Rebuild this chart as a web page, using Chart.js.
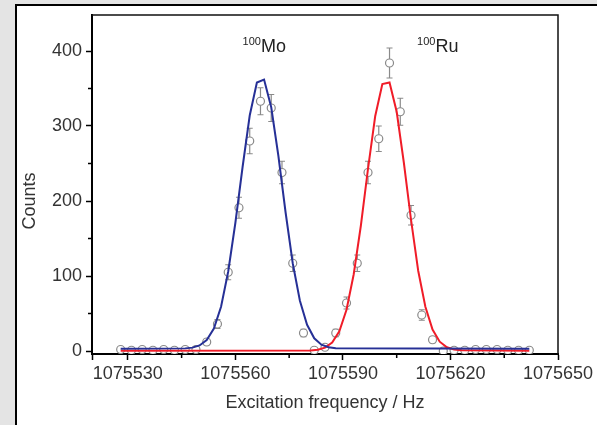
<!DOCTYPE html>
<html>
<head>
<meta charset="utf-8">
<script src="https://cdn.jsdelivr.net/npm/chart.js@4.4.1/dist/chart.umd.min.js"></script>
<style>
  html, body { margin: 0; padding: 0; background: #e4e4e4; }
  #wrap { width: 597px; height: 425px; }
</style>
</head>
<body>
<div id="wrap"><canvas id="grafico" width="597" height="425"></canvas></div>
<script>
// measured counts per excitation frequency (3 Hz steps)
const freq = [
  1075528, 1075531, 1075534, 1075537, 1075540, 1075543, 1075546, 1075549,
  1075552, 1075555, 1075558, 1075561, 1075564, 1075567, 1075570, 1075573,
  1075576, 1075579, 1075582, 1075585, 1075588, 1075591, 1075594, 1075597,
  1075600, 1075603, 1075606, 1075609, 1075612, 1075615, 1075618, 1075621,
  1075624, 1075627, 1075630, 1075633, 1075636, 1075639, 1075642
];
const counts = [
  2, 1, 2, 1, 2, 1, 2, 2,
  12, 36, 105, 191, 280, 333, 324, 238,
  117, 24, 1, 5, 24, 64, 117, 238,
  283, 384, 319, 181, 48, 15, 0, 1,
  1, 2, 2, 2, 1, 1, 1
];
const countErr = [
  1.4, 1, 1.4, 1, 1.4, 1, 1.4, 1.4,
  3.5, 6, 10, 14, 17, 18, 18, 15,
  11, 5, 1, 2, 5, 8, 11, 15,
  17, 20, 18, 13, 7, 4, 0, 1,
  1, 1.4, 1.4, 1.4, 1, 1, 1
];

// gaussian fit curves
const fitMoX = [1075528, 1075546, 1075548, 1075550, 1075552, 1075554, 1075556, 1075558, 1075560,
  1075562, 1075564, 1075566, 1075568, 1075570, 1075572, 1075574, 1075576, 1075578, 1075580,
  1075582, 1075584, 1075586, 1075588, 1075642];
const fitMoY = [3, 3.5, 4.5, 7.4, 14.7, 30, 59, 106, 171,
  245, 314, 358, 362, 325, 260, 185, 117, 67, 35,
  17, 8.5, 5, 3.6, 3];
const fitRuX = [1075528, 1075581, 1075583, 1075585, 1075587, 1075589, 1075591, 1075593, 1075595,
  1075597, 1075599, 1075601, 1075603, 1075605, 1075607, 1075609, 1075611, 1075613, 1075615,
  1075617, 1075619, 1075621, 1075623, 1075642];
const fitRuY = [0.5, 0.8, 1.8, 4.5, 11.3, 26.4, 55, 102, 167,
  243, 313, 356, 358, 319, 251, 175, 107, 59, 28.5,
  12.4, 5, 2, 1, 0.5];

const xTicks = [1075520, 1075530, 1075560, 1075590, 1075620, 1075650];
const xMinor = [1075545, 1075575, 1075605, 1075635];
const yTicks = [0, 100, 200, 300, 400];
const yMinor = [50, 150, 250, 350];

const FONT = "'Liberation Sans', Arial, sans-serif";

const toXY = (xs, ys) => xs.map((x, i) => ({ x: x, y: ys[i] }));

// white panel with the black edge lines
const panelPlugin = {
  id: "panel",
  beforeDraw(chart) {
    const c = chart.ctx;
    c.save();
    c.fillStyle = "#e4e4e4";
    c.fillRect(0, 0, chart.width, chart.height);
    c.fillStyle = "#fff";
    c.fillRect(17, 6, chart.width - 17, chart.height - 6);
    c.fillStyle = "#000";
    c.fillRect(15, 4, 2, chart.height - 4);
    c.fillRect(15, 4, chart.width - 15, 2);
    c.restore();
  }
};

// vertical error bars under the markers
const errorBars = {
  id: "errorBars",
  beforeDatasetsDraw(chart) {
    const c = chart.ctx, xs = chart.scales.x, ys = chart.scales.y;
    c.save();
    c.strokeStyle = "#8a8a8a";
    c.lineWidth = 1.2;
    freq.forEach((f, i) => {
      const e = countErr[i];
      if (!e) return;
      const px = xs.getPixelForValue(f);
      const top = ys.getPixelForValue(counts[i] + e);
      const bot = ys.getPixelForValue(counts[i] - e);
      c.beginPath();
      c.moveTo(px, top); c.lineTo(px, bot);
      c.moveTo(px - 3, top); c.lineTo(px + 3, top);
      c.moveTo(px - 3, bot); c.lineTo(px + 3, bot);
      c.stroke();
    });
    c.restore();
  }
};

// top/right frame, minor ticks, y title and isotope labels
const decor = {
  id: "decor",
  afterDraw(chart) {
    const c = chart.ctx, a = chart.chartArea, xs = chart.scales.x, ys = chart.scales.y;
    c.save();
    c.strokeStyle = "#111";
    c.lineWidth = 1.5;
    c.beginPath();
    c.moveTo(a.left, a.top); c.lineTo(a.right, a.top); c.lineTo(a.right, a.bottom);
    c.stroke();

    c.strokeStyle = "#000";
    c.lineWidth = 1.5;
    c.beginPath();
    xMinor.forEach(v => {
      const px = xs.getPixelForValue(v);
      c.moveTo(px, a.bottom); c.lineTo(px, a.bottom + 4);
    });
    yMinor.forEach(v => {
      const py = ys.getPixelForValue(v);
      c.moveTo(a.left, py); c.lineTo(a.left - 4, py);
    });
    c.stroke();

    // y axis title, sits a little below the axis middle
    c.save();
    c.translate(30, ys.getPixelForValue(200));
    c.rotate(-Math.PI / 2);
    c.fillStyle = "#333";
    c.font = "18px " + FONT;
    c.textAlign = "center";
    c.textBaseline = "middle";
    c.fillText("Counts", 0, 0);
    c.restore();

    c.fillStyle = "#222";
    c.textBaseline = "alphabetic";
    const lbls = chart.options.plugins.decor.labels;
    lbls.forEach(l => {
      const px = xs.getPixelForValue(l.x);
      const py = ys.getPixelForValue(l.y);
      c.font = "11px " + FONT;
      c.fillText(l.mass, px, py - 7);
      const w = c.measureText(l.mass).width;
      c.font = "18px " + FONT;
      c.fillText(l.el, px + w, py);
    });
    c.restore();
  }
};

new Chart(document.getElementById("grafico").getContext("2d"), {
  type: "scatter",
  data: {
    datasets: [
      {
        label: "100Mo fit",
        data: toXY(fitMoX, fitMoY),
        showLine: true,
        borderColor: "rgb(38, 48, 150)",
        borderWidth: 2,
        pointRadius: 0,
        tension: 0,
        order: 1
      },
      {
        label: "100Ru fit",
        data: toXY(fitRuX, fitRuY),
        showLine: true,
        borderColor: "rgb(240, 28, 40)",
        borderWidth: 2,
        pointRadius: 0,
        tension: 0,
        order: 2
      },
      {
        label: "Counts",
        data: toXY(freq, counts),
        pointRadius: 4,
        pointBackgroundColor: "#fff",
        pointBorderColor: "#8a8a8a",
        pointBorderWidth: 1.2,
        order: 3
      }
    ]
  },
  options: {
    responsive: false,
    animation: false,
    layout: { padding: { left: 0, right: 39, top: 15, bottom: 0 } },
    plugins: {
      legend: { display: false },
      tooltip: { enabled: false },
      decor: {
        labels: [
          { mass: "100", el: "Mo", x: 1075562, y: 399 },
          { mass: "100", el: "Ru", x: 1075610.7, y: 399 }
        ]
      }
    },
    scales: {
      x: {
        type: "linear",
        min: 1075520,
        max: 1075650,
        afterBuildTicks: s => { s.ticks = xTicks.map(v => ({ value: v })); },
        afterFit: s => { s.height = 71; },
        border: { display: true, color: "#000", width: 2 },
        grid: { drawOnChartArea: false, drawTicks: true, tickLength: 6, tickColor: "#000", tickWidth: 1.5 },
        ticks: {
          callback: v => (v === 1075520 ? "" : String(v)),
          color: "#333",
          font: { family: FONT, size: 18 },
          padding: 3,
          maxRotation: 0,
          autoSkip: false
        },
        title: {
          display: true,
          text: "Excitation frequency / Hz",
          color: "#333",
          font: { family: FONT, size: 18 },
          padding: { top: 0, bottom: 11 }
        }
      },
      y: {
        type: "linear",
        min: -4,
        max: 448,
        afterBuildTicks: s => { s.ticks = yTicks.map(v => ({ value: v })); },
        afterFit: s => { s.width = 92; },
        border: { display: true, color: "#000", width: 2 },
        grid: { drawOnChartArea: false, drawTicks: true, tickLength: 6, tickColor: "#000", tickWidth: 1.5 },
        ticks: {
          callback: v => String(v),
          color: "#333",
          font: { family: FONT, size: 18 },
          padding: 4
        },
        title: { display: false }
      }
    }
  },
  plugins: [panelPlugin, errorBars, decor]
});
</script>
</body>
</html>
